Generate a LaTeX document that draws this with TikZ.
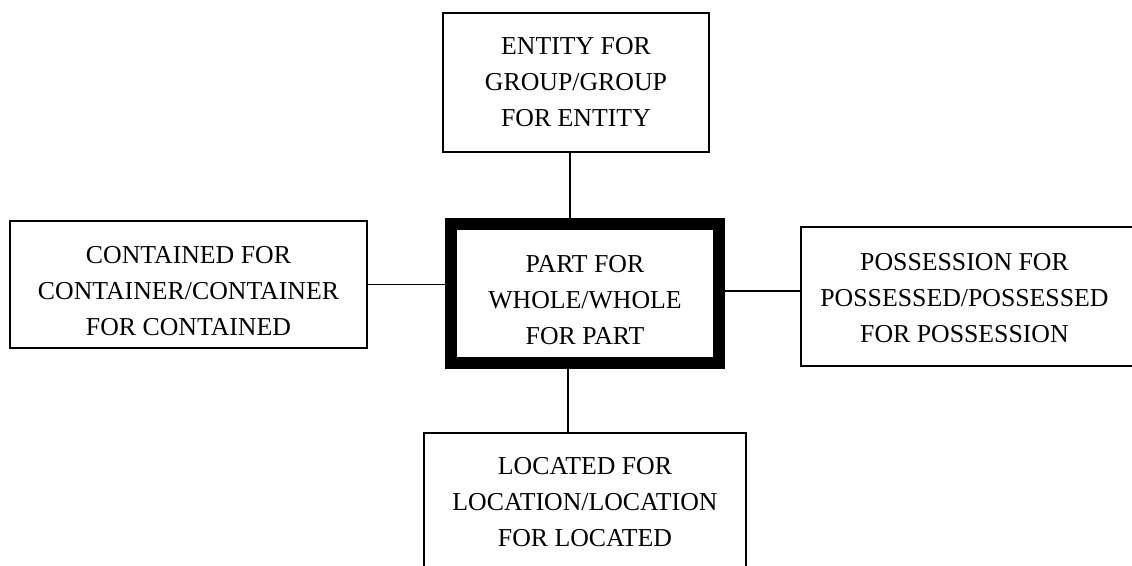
\documentclass[tikz,border=0pt]{standalone}
\usepackage{fontspec}
\setmainfont{Liberation Serif}
\begin{document}
\begin{tikzpicture}[x=0.5pt,y=-0.5pt,
  txt/.style={align=center, inner sep=0pt, font=\fontsize{12.9pt}{18pt}\selectfont},
  box/.style={draw, line width=1pt, txt, minimum height=69.5pt},
  mainbox/.style={box, line width=6pt},
  conn/.style={draw, line width=0.9pt}]
\useasboundingbox (0,0) rectangle (1132,566);
\clip (0,0) rectangle (1132,566);
\node[box, minimum width=133pt] (top) at (576,82.5) {ENTITY FOR\\GROUP/GROUP\\FOR ENTITY};
\node[mainbox, minimum width=134pt] (cbox) at (585,293.5) {};
\node[txt] (ctext) at ([yshift=-3.5pt]cbox.center) {PART FOR\\WHOLE/WHOLE\\FOR PART};
\node[box, minimum width=178.5pt, minimum height=63.5pt] (left) at (188.5,284.5) {};
\node[txt] (ltext) at ([yshift=-3.5pt]left.center) {CONTAINED FOR\\CONTAINER/CONTAINER\\FOR CONTAINED};
\node[box, minimum width=166.5pt] (right) at (967.5,296.5) {};
\node[txt] (rtext) at ([yshift=-1pt,xshift=-1.5pt]right.center) {POSSESSION FOR\\POSSESSED/POSSESSED\\FOR POSSESSION};
\node[box, minimum width=161pt] (bot) at (585,502.5) {LOCATED FOR\\LOCATION/LOCATION\\FOR LOCATED};
\draw[conn] ([xshift=-3pt]top.south) -- ([xshift=-3pt]top.south |- cbox.north);
\draw[conn] ([xshift=-8.5pt]bot.north) -- ([xshift=-8.5pt]bot.north |- cbox.south);
\draw[conn] (left.east) -- (left.east -| cbox.west);
\draw[conn] ([yshift=2.6pt]right.west) -- ([yshift=2.6pt]right.west -| cbox.east);
\end{tikzpicture}
\end{document}
